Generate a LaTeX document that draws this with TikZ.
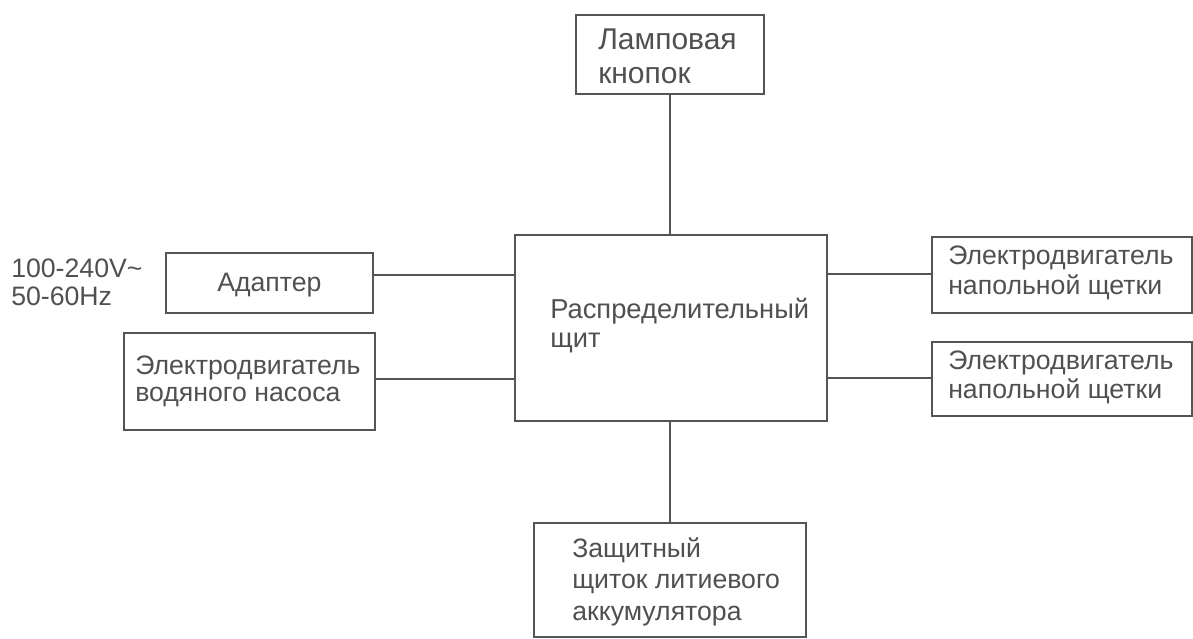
\documentclass[tikz,border=0pt]{standalone}
\usepackage{fontspec}
\setmainfont{Liberation Sans}
\definecolor{linecol}{HTML}{555555}
\definecolor{txtcol}{HTML}{505050}
\begin{document}
\begin{tikzpicture}[x=0.75pt,y=-0.75pt,
  box/.style={draw=linecol,line width=1.5pt,inner sep=0pt,anchor=north west},
  wire/.style={draw=linecol,line width=1.5pt},
  txt/.style={text=txtcol,inner sep=0pt,anchor=base west,font=\fontsize{20pt}{24pt}\selectfont},
  midtxt/.style={txt,font=\fontsize{20.5pt}{24pt}\selectfont},
  bigtxt/.style={txt,font=\fontsize{22.5pt}{26pt}\selectfont}]
\useasboundingbox (0,0) rectangle (1193,639);
% boxes
\node[box,minimum width=188*0.75pt,minimum height=79*0.75pt] (lamp) at (575,14) {};
\node[box,minimum width=312*0.75pt,minimum height=186*0.75pt] (dist) at (514,234) {};
\node[box,minimum width=207*0.75pt,minimum height=60*0.75pt] (adapt) at (165,252) {};
\node[box,minimum width=251*0.75pt,minimum height=97*0.75pt] (pump) at (123,332) {};
\node[box,minimum width=260*0.75pt,minimum height=76*0.75pt] (brush1) at (931,236) {};
\node[box,minimum width=260*0.75pt,minimum height=74*0.75pt] (brush2) at (931,341) {};
\node[box,minimum width=272*0.75pt,minimum height=114*0.75pt] (bms) at (533,522) {};
% texts
\node[bigtxt] (lampA) at (598,50) {Ламповая};
\node[bigtxt] (lampB) at (598,83) {кнопок};
\node[midtxt] (distA) at (550,318) {Распределительный};
\node[midtxt] (distB) at (550,347) {щит};
\node[txt] (adaptT) at (217,291) {Адаптер};
\node[txt] (volt) at (11,277) {100-240V\textasciitilde};
\node[txt] (hz) at (11,305) {50-60Hz};
\node[txt] (pumpA) at (135,374) {Электродвигатель};
\node[txt] (pumpB) at (135,401) {водяного насоса};
\node[txt] (b1A) at (948,264) {Электродвигатель};
\node[txt] (b1B) at (948,294) {напольной щетки};
\node[txt] (b2A) at (948,369) {Электродвигатель};
\node[txt] (b2B) at (948,398) {напольной щетки};
\node[txt] (bmsA) at (572,557) {Защитный};
\node[txt] (bmsB) at (572,588) {щиток литиевого};
\node[txt] (bmsC) at (572,620) {аккумулятора};
% wires
\coordinate (wa) at (372,275);
\coordinate (wp) at (374,379);
\coordinate (wb1) at (931,274);
\coordinate (wb2) at (931,378);
\draw[wire] (lamp.south) -- (lamp.south |- dist.north);
\draw[wire] (bms.north) -- (bms.north |- dist.south);
\draw[wire] (wa) -- (wa -| dist.west);
\draw[wire] (wp) -- (wp -| dist.west);
\draw[wire] (wb1) -- (wb1 -| dist.east);
\draw[wire] (wb2) -- (wb2 -| dist.east);
\end{tikzpicture}
\end{document}
